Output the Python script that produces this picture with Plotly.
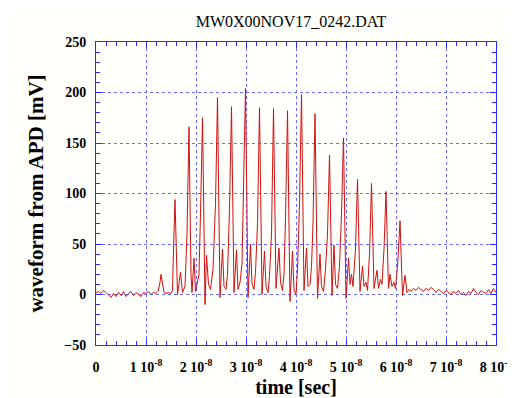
import plotly.graph_objects as go

# time in ns, waveform in mV (vertices)
time_ns = [
    0, 0.5, 1, 1.5, 2, 2.5, 3, 3.5, 4, 4.5, 5, 5.5, 6, 6.5, 7, 7.5, 8, 8.5, 9, 9.5, 10, 10.5, 11, 11.5,
    12.0, 12.4, 12.8, 13.0, 13.3, 13.6, 14.0, 14.5, 15.0, 15.3, 15.5, 15.8,
    16.3, 16.9, 17.3, 17.8, 18.2, 18.6,
    19.0, 19.2, 19.6, 19.9, 20.2, 20.6, 20.9, 21.3,
    21.8, 22.1, 22.5, 22.9, 23.4, 23.9, 24.3,
    24.8, 25.3, 25.6, 26.0, 26.3, 26.7, 27.1,
    27.6, 28.1, 28.4, 28.8, 29.2, 29.5, 29.9,
    30.4, 30.9, 31.2, 31.6, 31.9, 32.3, 32.7,
    33.2, 33.7, 34.0, 34.4, 34.7, 35.1, 35.5,
    36.0, 36.6, 36.9, 37.3, 37.6, 37.9, 38.3,
    38.8, 39.3, 39.6, 40.0, 40.3, 40.7, 41.1,
    41.6, 42.1, 42.4, 42.8, 43.1, 43.4, 43.8,
    44.3, 44.8, 45.1, 45.5, 45.9, 46.3, 46.7,
    47.2, 47.6, 47.9, 48.3, 48.7, 49.1, 49.5,
    50.0, 50.5, 50.8, 51.1, 51.4, 51.9, 52.3,
    52.8, 53.3, 53.6, 54.0, 54.3, 54.7, 55.1,
    55.6, 56.2, 56.5, 56.9, 57.2, 57.6, 58.0,
    58.5, 58.8, 59.2, 59.6, 59.9, 60.4, 60.8,
    61.3, 61.8, 62.2, 62.6, 63.0,
    63.5, 64.0, 64.5, 65.0, 65.5, 66.0, 66.5, 67.0, 67.5, 68.0, 68.5, 69.0, 69.5, 70.0,
    70.5, 71.0, 71.5, 72.0, 72.5, 73.0, 73.5, 74.0, 74.5, 75.0, 75.5, 76.0, 76.5, 77.0,
    77.5, 78.0, 78.5, 79.0, 79.5, 80.0,
]
waveform_mV = [
    2, 3, 1, 4, 2, -1, -3, 1, -2, 2, -1, 3, -2, 1, 3, -1, 2, 0, -2, 2, 1, 3, 0, 2,
    1, 3, 12, 20, 8, 2, 1, 2, 1, 4, 45, 94,
    0, 22, 2, 8, 60, 166,
    20, 2, 36, 3, 10, 20, 80, 175,
    -10, 39, 10, 5, 25, 90, 195,
    -3, 45, 8, 5, 20, 85, 186,
    2, 44, 5, 12, 30, 100, 204,
    -3, 50, 11, 5, 22, 70, 185,
    0, 43, 8, 2, 18, 60, 184,
    6, 46, 12, 4, 20, 75, 182,
    -7, 43, 5, 0, 25, 90, 198,
    4, 46, 8, 10, 28, 70, 179,
    -4, 40, 8, 3, 25, 60, 138,
    -1, 49, 10, 6, 28, 80, 155,
    -4, 36, 10, 20, 8, 45, 114,
    3, 28, 8, 12, 4, 40, 110,
    6, 24, 6, 15, 10, 45, 102,
    6, 20, 8, 12, 6, 35, 73,
    -1, 19, 2, 5, 3,
    6, 4, 7, 5, 3, 6, 4, 7, 5, 2, 5, 3, 1, 4,
    2, 0, 3, 1, 4, 0, 2, -1, 3, 1, 6, 2, 0, 4,
    2, 1, 5, 1, 6, 2,
]

x_tick_vals = [0, 1e-8, 2e-8, 3e-8, 4e-8, 5e-8, 6e-8, 7e-8, 8e-8]
x_tick_text = ["0"] + [f"{i} 10<sup>-8</sup>" for i in range(1, 9)]
y_tick_vals = [-50, 0, 50, 100, 150, 200, 250]

time_s = [t * 1e-9 for t in time_ns]

blue = "#2a2aff"
grid_blue = "#6a6aff"
serif = "Liberation Serif, Times New Roman, serif"

# the page body adds an 8px offset, so the figure is 8px smaller
W, H = 507, 390

fig = go.Figure()
fig.add_trace(go.Scatter(
    x=time_s, y=waveform_mV, mode="lines",
    line=dict(color="#d01010", width=1),
    showlegend=False, hoverinfo="skip",
))

axis_common = dict(
    showline=True, linecolor=blue, linewidth=1, mirror="allticks",
    ticks="inside", ticklen=6, tickcolor=blue, tickwidth=1,
    showgrid=True, gridcolor=grid_blue, griddash="dot", gridwidth=1,
    zeroline=False, automargin=False,
)

fig.update_xaxes(
    **axis_common,
    tickfont=dict(family=serif, size=14, color="black", weight="bold"),
    range=[0, 8e-8], tickmode="array", tickvals=x_tick_vals, ticktext=x_tick_text,
    minor=dict(ticks="inside", ticklen=4, tickcolor=blue, dtick=2e-9, tick0=0, showgrid=False),
    ticklabelstandoff=9, ticklabeloverflow="allow",
    title=dict(text="time [sec]", font=dict(family=serif, size=20, color="black", weight="bold"), standoff=14),
)
fig.update_yaxes(
    **axis_common,
    tickfont=dict(family=serif, size=14, color="black", weight="bold"),
    range=[-50, 250], tickmode="array", tickvals=y_tick_vals,
    minor=dict(ticks="inside", ticklen=4, tickcolor=blue, dtick=10, tick0=0, showgrid=False),
    ticklabelstandoff=6,
    title=dict(text="waveform from APD [mV]", font=dict(family=serif, size=21, color="black", weight="bold"), standoff=14),
)

fig.update_layout(
    width=W, height=H,
    margin=dict(l=88, r=19, t=34, b=53),
    paper_bgcolor="#fffffb", plot_bgcolor="#fffffb",
    title=dict(text="MW0X00NOV17_0242.DAT", font=dict(family=serif, size=16, color="black"),
               x=283 / W, xref="container", xanchor="center",
               y=1 - 13 / H, yref="container", yanchor="middle"),
)

fig.write_html("out.html")
